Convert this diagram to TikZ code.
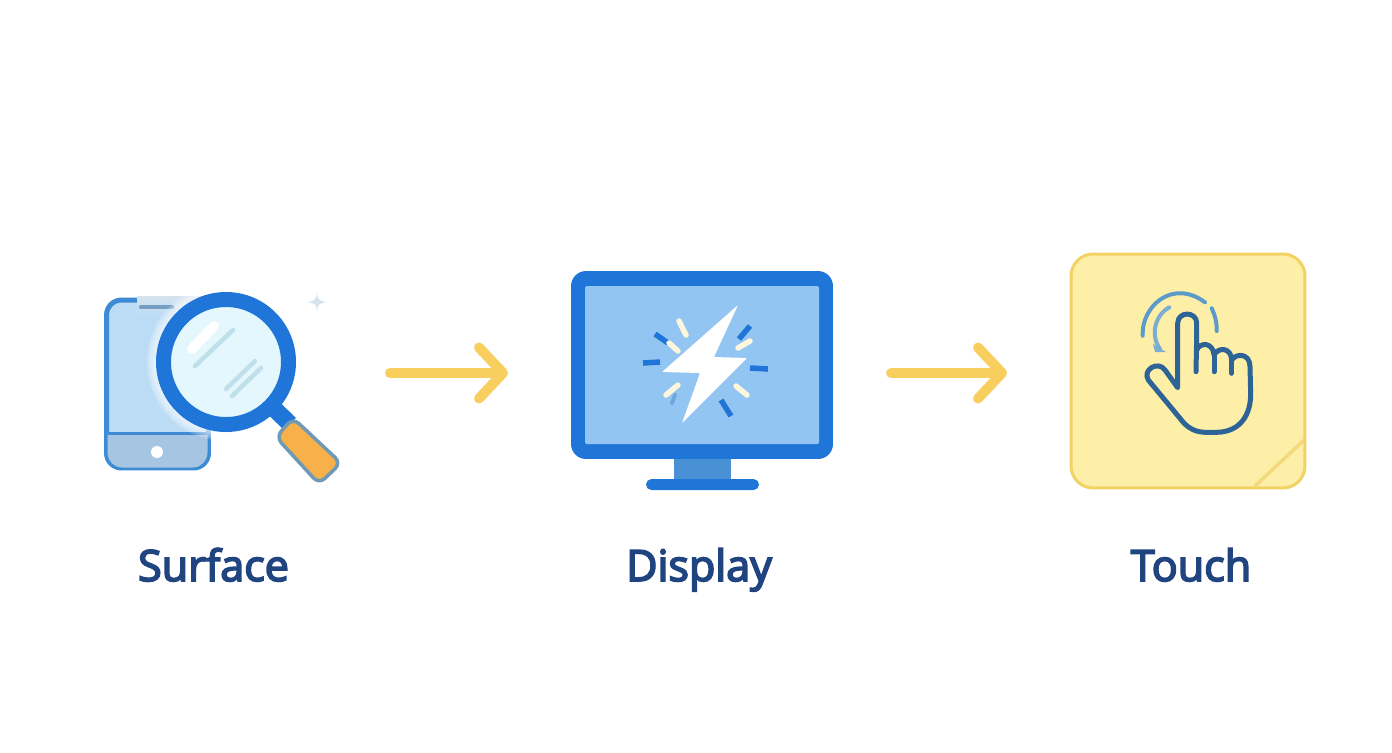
\documentclass[tikz,border=0pt]{standalone}
\usepackage{fontspec}
\setmainfont{Open Sans}
\newfontfamily\titlefont{Open Sans}[FakeBold=4]
\usepackage{tikz}
\usetikzlibrary{arrows.meta,positioning}

\definecolor{ringblue}{HTML}{1F75D8}
\definecolor{screenblue}{HTML}{93C5F3}
\definecolor{standblue}{HTML}{4A90D4}
\definecolor{phoneblue}{HTML}{BCDCF5}
\definecolor{phoneedge}{HTML}{3D8BD4}
\definecolor{phonebar}{HTML}{A6C5E3}
\definecolor{phonetop}{HTML}{D5E3EE}
\definecolor{lensblue}{HTML}{E4F7FD}
\definecolor{streak}{HTML}{BFE0EA}
\definecolor{gripfill}{HTML}{F7B04A}
\definecolor{gripedge}{HTML}{6F9AB5}
\definecolor{notefill}{HTML}{FDEFA8}
\definecolor{noteedge}{HTML}{F1D264}
\definecolor{arrowyellow}{HTML}{F8CE5E}
\definecolor{handblue}{HTML}{2E6397}
\definecolor{arcblue}{HTML}{5B9AC9}
\definecolor{titleblue}{HTML}{1F4480}
\definecolor{cream}{HTML}{FBF6DC}

\begin{document}
\begin{tikzpicture}[x=0.02cm,y=-0.02cm]
    \tikzstyle{title}=[font=\titlefont\fontsize{24.5}{30}\selectfont, text=titleblue, inner sep=0pt, anchor=base]
    \tikzstyle{connect}=[line width=0.2cm, line cap=round, draw=arrowyellow, -{Straight Barb[round,length=0.48cm,width=1.02cm]}]
    \tikzstyle{frame}=[rectangle, rounded corners=0.3cm, fill=ringblue, minimum width=5.24cm, minimum height=3.76cm, inner sep=0pt]
    \tikzstyle{note}=[rectangle, rounded corners=0.44cm, fill=notefill, draw=noteedge, line width=0.06cm, minimum width=4.68cm, minimum height=4.68cm, inner sep=0pt]
    \tikzstyle{body}=[rectangle, rounded corners=0.3cm, fill=phoneblue, draw=phoneedge, line width=0.1cm, minimum width=2.04cm, minimum height=3.36cm, inner sep=0pt]

    \useasboundingbox (0,0) rectangle (1392,752);
    \fill[white] (0,0) rectangle (1392,752);

    % phone
    \node[body] (phone) at (157.5,384) {};
    \begin{scope}
      \clip[rounded corners=0.3cm] (107.5,300.5) rectangle (207.5,467.5);
      \fill[phonebar] (105,433) rectangle (210,470);
      \fill[phoneedge] (105,431.5) rectangle (210,434.5);
    \end{scope}
    \shade[top color=phonetop, bottom color=phoneblue] (137,296) rectangle (205,316);
    \draw[line width=0.09cm, line cap=round, draw=phonebar!60!handblue] (141,307) -- (172,307);
    \node[circle, fill=white, minimum size=0.24cm, inner sep=0pt] (button) at (157,452) {};

    % lens
    \foreach \r in {71,73,75,77,79}
      \fill[white, opacity=0.2] (226,362) circle (\r);
    \coordinate (lens) at (226,362);
    \coordinate (neck) at (290,424);
    \draw[line width=0.34cm, ringblue] (lens) -- (neck);
    \draw[line width=0.07cm, rounded corners=0.16cm, draw=gripedge, fill=gripfill] (276,437) -- (293,418) -- (341,463) -- (319,484) -- cycle;
    \fill[lensblue] (lens) circle (56);
    \draw[line width=0.3cm, ringblue] (lens) circle (62.5);
    \draw[line width=0.2cm, line cap=round, white] (192,349) -- (214,326);
    \foreach \xa/\ya/\xb/\yb in {195/366/233/330, 226/389/255/361, 232/396/261/368}
      \draw[line width=0.09cm, line cap=round, streak] (\xa,\ya) -- (\xb,\yb);
    \fill[phonetop] (317,293) .. controls (318,300) .. (326,302) .. controls (318,304) .. (317,311) .. controls (316,304) .. (308,302) .. controls (316,300) .. (317,293);

    % monitor
    \fill[standblue] (674,455) rectangle (731,482);
    \node[frame] (monitor) at (702,365) {};
    \fill[screenblue, rounded corners=0.03cm] (585,286) rectangle (819,444);
    \fill[ringblue, rounded corners=0.11cm] (646,479) rectangle (759,490);
    \fill[white, rounded corners=0.02cm] (738,305) -- (662,372) -- (700,373) -- (682,423) -- (747,358) -- (714,357) -- cycle;
    \foreach \xa/\ya/\xb/\yb in {655/334/668/343, 750/326/739/339, 643/363/660/362, 750/368/768/369, 721/400/731/416}
      \draw[line width=0.11cm, ringblue] (\xa,\ya) -- (\xb,\yb);
    \foreach \xa/\ya/\xb/\yb in {669/343/678/351, 679/321/686/335, 750/341/738/348, 736/386/747/395, 678/385/666/395}
      \draw[line width=0.11cm, line cap=round, cream] (\xa,\ya) -- (\xb,\yb);
    \draw[line width=0.08cm, line cap=round, standblue!80!white] (675,395) -- (672,403);

    % note
    \node[note] (pad) at (1188,371) {};
    \draw[line width=0.07cm, noteedge!85!white] (1255,486) -- (1304,440);

    % hand
    \draw[line width=0.1cm, handblue, line join=round, line cap=round, fill=notefill]
      (1177.7,387.7) -- (1177.7,323.3) .. controls (1177.7,311) and (1196.7,311) .. (1196.7,323.3)
      -- (1196.7,350) .. controls (1200,342) and (1213,342) .. (1214,355)
      .. controls (1218,347) and (1231,347) .. (1231.7,360)
      .. controls (1236,353) and (1250,353) .. (1250,366.7)
      -- (1250.7,395) .. controls (1250,420) and (1236,432) .. (1216.7,432.3)
      -- (1205,432.3) .. controls (1192,432) and (1185,425) .. (1180,418.3)
      -- (1148.3,380) .. controls (1142,370) and (1158,360) .. (1165,370) -- cycle;
    \draw[line width=0.1cm, handblue, line cap=round] (1196.5,345) -- (1196,371.7);
    \draw[line width=0.1cm, handblue, line cap=round] (1214,355) -- (1214,371.7);
    \draw[line width=0.1cm, handblue, line cap=round] (1231.7,360) -- (1231.7,373.3);
    \draw[line width=0.08cm, line cap=round, arcblue] (1142.7,335.7) .. controls (1141,307) and (1172,278) .. (1205,302.3);
    \draw[line width=0.08cm, line cap=round, arcblue] (1211.7,308.3) .. controls (1215,315) and (1217,323) .. (1216.7,331);
    \draw[line width=0.08cm, line cap=round, arcblue!80!white] (1169.3,307.3) .. controls (1155,315) and (1150,335) .. (1160,349);
    \fill[arcblue!80!white] (1153,344) -- (1166,352) -- (1155,352) -- cycle;

    % arrows
    \coordinate (first) at (390,373);
    \coordinate (firstend) at (508,373);
    \coordinate (second) at (891,373);
    \coordinate (secondend) at (1007,373);
    \path
      (first) edge [connect] (firstend)
      (second) edge [connect] (secondend);

    % labels
    \node[title] (surface) at (213.5,581) {Surface};
    \node[title] (display) at (699,581) {Display};
    \node[title] (touch) at (1191,581) {Touch};
\end{tikzpicture}
\end{document}
